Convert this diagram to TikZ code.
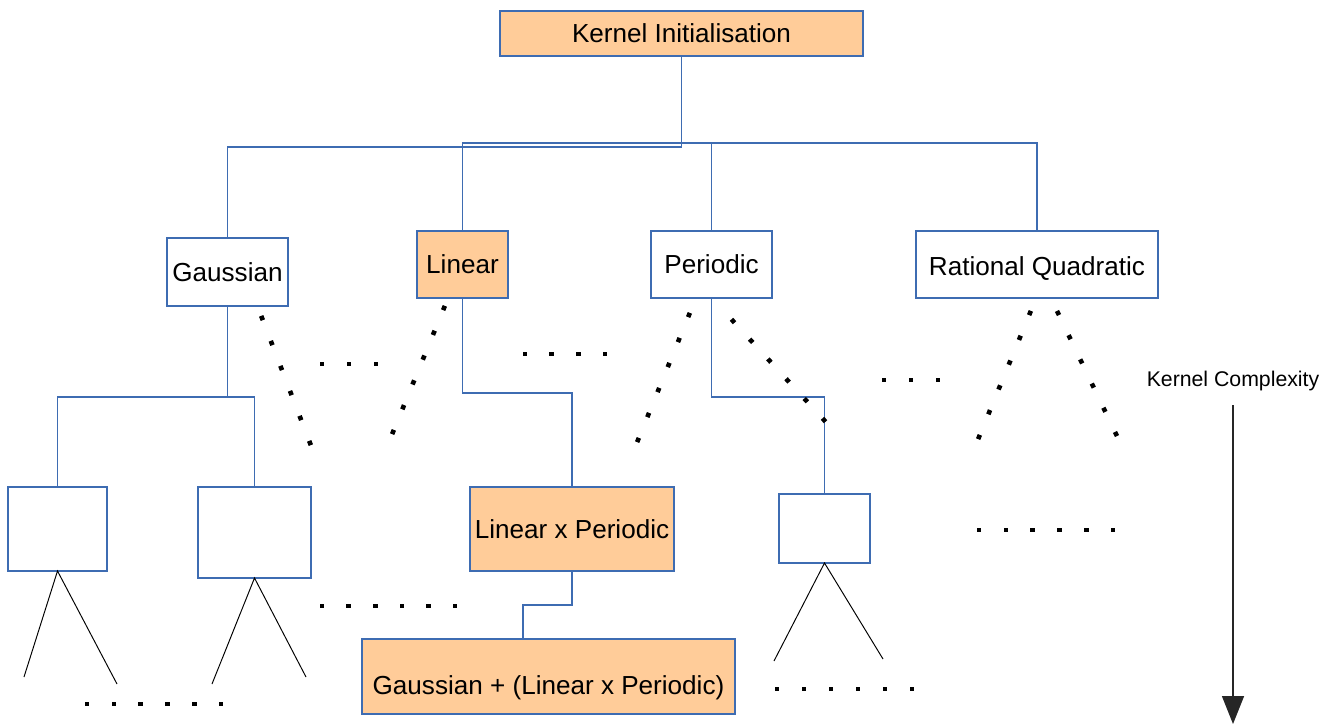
\documentclass[tikz,border=0pt]{standalone}
\usepackage{fontspec}
\setmainfont{Liberation Sans}
\usetikzlibrary{calc,arrows.meta}
\definecolor{boxblue}{RGB}{62,108,178}
\definecolor{peach}{RGB}{255,204,153}
% a run of small square dots from #1 to #2, #3 gaps, squares turned by #4
\newcommand\dotrun[4]{%
  \foreach \i in {0,...,#3}{%
    \fill[shift={($(#1)!\i/#3!(#2)$)}, rotate=#4] (-2.3,-2.3) rectangle (2.3,2.3);}}
\begin{document}
\begin{tikzpicture}[x=0.02cm,y=-0.02cm,
  kbox/.style={draw=boxblue, line width=0.8pt, rectangle, inner sep=0pt,
    outer sep=0pt, font=\fontsize{14.85}{17}\selectfont, text=black,
    text height=10.6pt, text depth=0pt},
  hot/.style={kbox, fill=peach},
  conn/.style={draw=boxblue, line width=0.8pt},
  branch/.style={draw=black, line width=0.55pt},
  arr/.style={draw=black!85, line width=0.8pt,
    -{Triangle[width=0.44cm,length=0.56cm]}}
]
\useasboundingbox (0,0) rectangle (1336,724);

% kernel boxes
\node[hot,  minimum width=7.26cm, minimum height=0.90cm] (root)   at (681.5,33.5)  {Kernel Initialisation};
\node[kbox, minimum width=2.42cm, minimum height=1.36cm] (gauss)  at (227.5,272)   {Gaussian};
\node[hot,  minimum width=1.82cm, minimum height=1.34cm] (linear) at (462.5,264.5) {Linear};
\node[kbox, minimum width=2.42cm, minimum height=1.34cm] (period) at (711.5,264.5) {Periodic};
\node[kbox, minimum width=4.84cm, minimum height=1.34cm, text height=12pt] (ratq) at (1037,264.5) {Rational Quadratic};
\node[kbox, minimum width=1.98cm, minimum height=1.68cm] (gleft)  at (57.5,529)    {};
\node[kbox, minimum width=2.26cm, minimum height=1.82cm] (gright) at (254.5,532.5) {};
\node[hot,  minimum width=4.08cm, minimum height=1.68cm] (linper) at (572,529)     {Linear x Periodic};
\node[kbox, minimum width=1.82cm, minimum height=1.38cm] (pchild) at (824.5,528.5) {};
\node[hot,  minimum width=7.46cm, minimum height=1.50cm, text height=20.8pt] (gsum) at (548.5,676.5) {Gaussian + (Linear x Periodic)};

% tree connectors
\draw[conn] (root.south) |- (gauss.north |- 0,147) -- (gauss.north);
\draw[conn] (root.south) |- (linear.north |- 0,143) -- (linear.north);
\draw[conn] (root.south) |- (period.north |- 0,143) -- (period.north);
\draw[conn] (root.south) |- (ratq.north |- 0,143) -- (ratq.north);
\draw[conn] (gauss.south) |- (gleft.north |- 0,397) -- (gleft.north);
\draw[conn] (gauss.south) |- (gright.north |- 0,397) -- (gright.north);
\draw[conn] (linear.south) |- (linper.north |- 0,393) -- (linper.north);
\draw[conn] (linper.south) |- (523,605) -- (gsum.north -| 523,0);
\draw[conn] (period.south) |- (pchild.north |- 0,397) -- (pchild.north);

% open branches below the unnamed kernels
\draw[branch] (24,677) -- (gleft.south) -- (117,684);
\draw[branch] (212,684) -- (gright.south) -- (306,677);
\draw[branch] (774,661) -- (pchild.south) -- (883,659);

% elided branches
\dotrun{262,318}{310,443}{5}{-69}
\dotrun{322,364}{376,364}{2}{0}
\dotrun{444,308}{393,432}{5}{-22}
\dotrun{525,354}{605,354}{3}{0}
\dotrun{689,315}{638,440}{5}{-22}
\dotrun{733,321}{824,420}{5}{-47}
\dotrun{884,380}{938,380}{2}{0}
\dotrun{1030,313}{979,437}{5}{-22}
\dotrun{1058,313}{1116,434}{5}{-64}
\dotrun{979,530}{1113,530}{5}{0}
\dotrun{87,704}{221,704}{5}{0}
\dotrun{322,606}{455,606}{5}{0}
\dotrun{777,689}{912,689}{5}{0}

% complexity axis
\node[inner sep=0pt, font=\fontsize{12.1}{14}\selectfont] (cplx) at (1233,381) {Kernel Complexity};
\coordinate (cplxend) at (1233,724);
\draw[arr] (cplx.south) ++(0,14) -- (cplxend);
\end{tikzpicture}
\end{document}
